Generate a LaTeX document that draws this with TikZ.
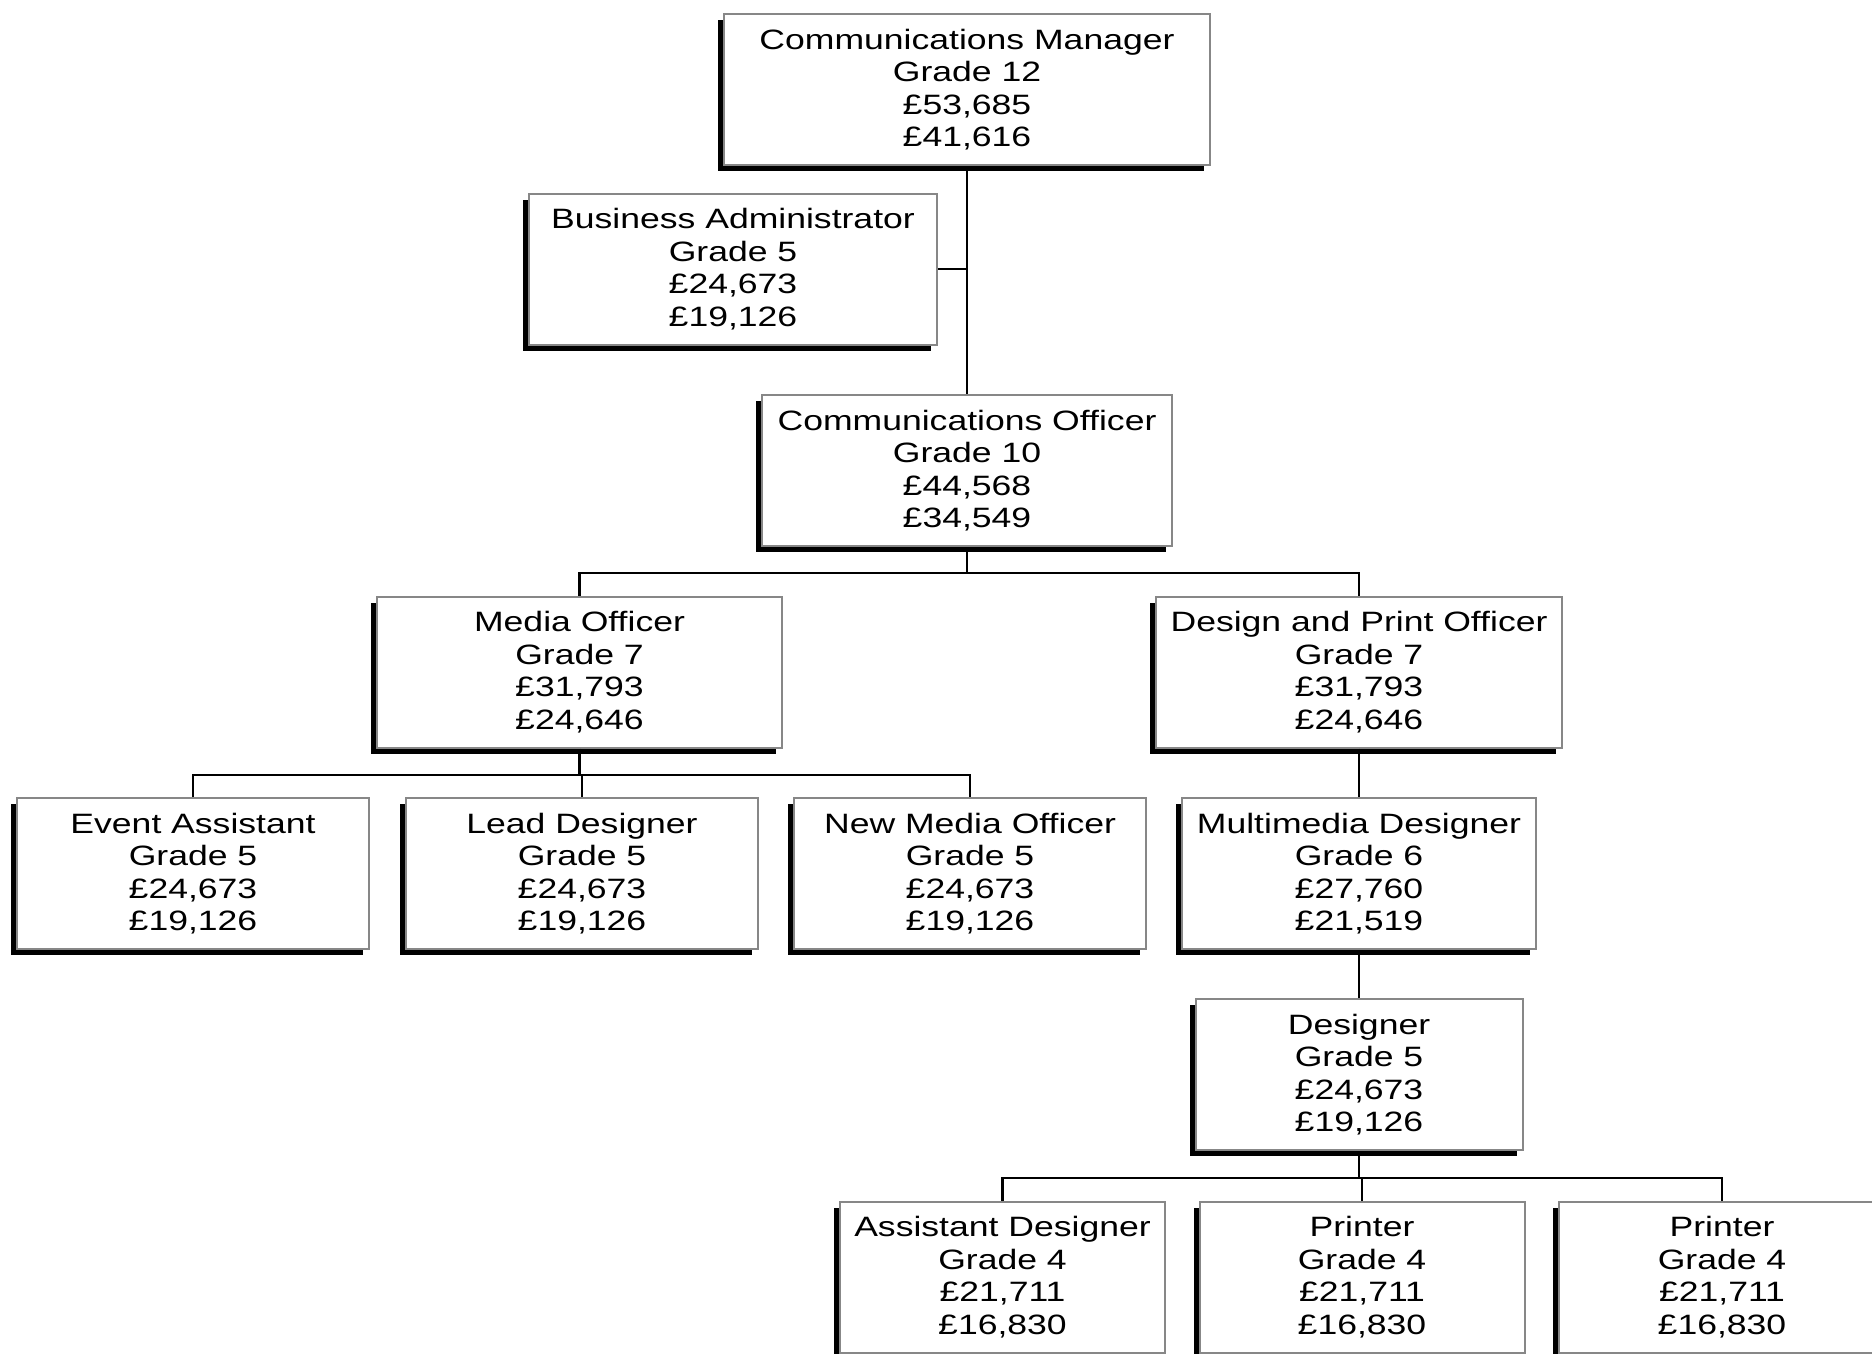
\documentclass[tikz,border=0pt]{standalone}
\usepackage{fontspec}
\setmainfont{Liberation Sans}[FakeStretch=1.27]
\usetikzlibrary{shadows}
\definecolor{boxgray}{RGB}{135,135,135}
\begin{document}
\begin{tikzpicture}[x=1pt,y=-1pt,
  orgbox/.style={draw=boxgray, line width=2pt, fill=white, align=center,
    inner sep=0pt, minimum height=151pt,
    font=\fontsize{28}{32.5}\selectfont,
    drop shadow={shadow xshift=-6pt, shadow yshift=-6pt, fill=black, opacity=1}},
  link/.style={line width=2.5pt, black}]
\useasboundingbox (0,0) rectangle (1872,1353);
\clip (0,0) rectangle (1872,1353);
\fill[white] (0,0) rectangle (1872,1353);

\node[orgbox, minimum width=486pt] (cm) at (967,89.5) {Communications Manager\\Grade 12\\£53,685\\£41,616};
\node[orgbox, minimum width=408pt] (ba) at (733,269) {Business Administrator\\Grade 5\\£24,673\\£19,126};
\node[orgbox, minimum width=410pt] (co) at (967,470.5) {Communications Officer\\Grade 10\\£44,568\\£34,549};
\node[orgbox, minimum width=405pt] (mo) at (579.5,672) {Media Officer\\Grade 7\\£31,793\\£24,646};
\node[orgbox, minimum width=406pt] (dpo) at (1359,672) {Design and Print Officer\\Grade 7\\£31,793\\£24,646};
\node[orgbox, minimum width=352pt] (ea) at (193,873.5) {Event Assistant\\Grade 5\\£24,673\\£19,126};
\node[orgbox, minimum width=352pt] (ld) at (582,873.5) {Lead Designer\\Grade 5\\£24,673\\£19,126};
\node[orgbox, minimum width=352pt] (nmo) at (970,873.5) {New Media Officer\\Grade 5\\£24,673\\£19,126};
\node[orgbox, minimum width=354pt] (mmd) at (1359,873.5) {Multimedia Designer\\Grade 6\\£27,760\\£21,519};
\node[orgbox, minimum width=327pt] (des) at (1359,1074.5) {Designer\\Grade 5\\£24,673\\£19,126};
\node[orgbox, minimum width=325pt] (ad) at (1002.5,1277) {Assistant Designer\\Grade 4\\£21,711\\£16,830};
\node[orgbox, minimum width=325pt] (pr1) at (1362,1277) {Printer\\Grade 4\\£21,711\\£16,830};
\node[orgbox, minimum width=326pt] (pr2) at (1722,1277) {Printer\\Grade 4\\£21,711\\£16,830};

\coordinate (j1) at (967,573);
\coordinate (j2) at (580,775);
\coordinate (j3) at (1360,1178);

% connectors
\draw[link] (cm.south) -- (co.north);
\draw[link] (ba.east) -- (ba.east -| cm.south);
\draw[link] (co.south) -- (co.south |- j1);
\draw[link] (mo.north) -- (mo.north |- j1) -- (dpo.north |- j1) -- (dpo.north);
\draw[link] (mo.south) -- (mo.south |- j2);
\draw[link] (ea.north) -- (ea.north |- j2) -- (nmo.north |- j2) -- (nmo.north);
\draw[link] (ld.north) -- (ld.north |- j2);
\draw[link] (dpo.south) -- (mmd.north);
\draw[link] (mmd.south) -- (des.north);
\draw[link] (des.south) -- (des.south |- j3);
\draw[link] (ad.north) -- (ad.north |- j3) -- (pr2.north |- j3) -- (pr2.north);
\draw[link] (pr1.north) -- (pr1.north |- j3);
\end{tikzpicture}
\end{document}
